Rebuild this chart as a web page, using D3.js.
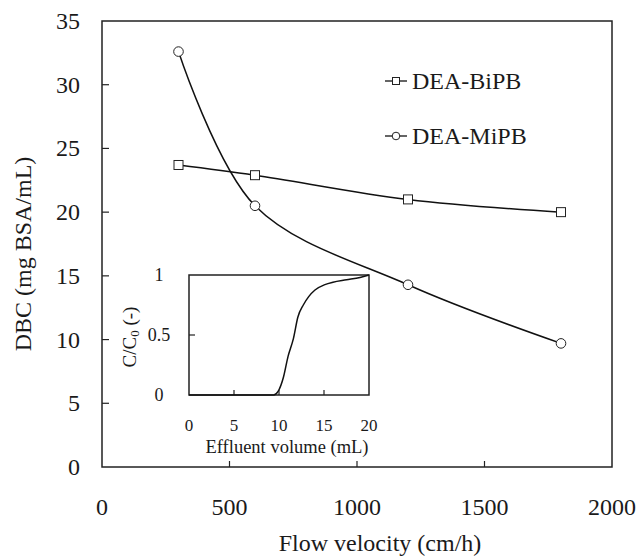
<!DOCTYPE html>
<html>
<head>
<meta charset="utf-8">
<script src="https://cdn.jsdelivr.net/npm/d3@7"></script>
<style>
  body { margin: 0; background: #fff; }
  text { font-family: "Liberation Serif", "Times New Roman", serif; fill: #1a1a1a; }
</style>
</head>
<body>
<div id="chart"></div>
<script>
// main chart data
var velocity = [300, 600, 1200, 1800];
var dbcBiPB = [23.7, 22.9, 21.0, 20.0];
var dbcMiPB = [32.6, 20.5, 14.3, 9.7];
var xTicks = [0, 500, 1000, 1500, 2000];
var yTicks = [0, 5, 10, 15, 20, 25, 30, 35];

// inset breakthrough curve
var effluentVol = [0, 9.0, 9.4, 9.9, 10.5, 11.0, 11.6, 12.1, 12.7, 13.3, 14.0, 15.1, 16.0, 17.5, 19.0, 20];
var cOverC0 = [0, 0, 0, 0.03, 0.15, 0.32, 0.47, 0.65, 0.75, 0.82, 0.875, 0.92, 0.94, 0.96, 0.98, 1.0];
var insetXTicks = [0, 5, 10, 15, 20];
var insetYTicks = [0, 0.5, 1];

var W = 640, H = 558;

var svg = d3.select("#chart")
  .append("svg")
    .attr("width", W)
    .attr("height", H);

// scales
var x = d3.scaleLinear().domain([0, 2000]).range([102, 612]);
var y = d3.scaleLinear().domain([0, 35]).range([467, 21]);

var xi = d3.scaleLinear().domain([0, 20]).range([189, 369]);
var yi = d3.scaleLinear().domain([0, 1]).range([395, 275]);

// frame
svg.append("rect")
  .attr("x", x(0)).attr("y", y(35))
  .attr("width", x(2000) - x(0)).attr("height", y(0) - y(35))
  .attr("fill", "none").attr("stroke", "#222").attr("stroke-width", 1.5);

// inward ticks (x)
svg.append("g")
  .selectAll("line")
  .data(xTicks.slice(1, -1))
  .enter()
  .append("line")
    .attr("x1", d => x(d)).attr("x2", d => x(d))
    .attr("y1", y(0)).attr("y2", y(0) - 6)
    .attr("stroke", "#222").attr("stroke-width", 1.2);

// inward ticks (y)
svg.append("g")
  .selectAll("line")
  .data(yTicks.slice(1, -1))
  .enter()
  .append("line")
    .attr("x1", x(0)).attr("x2", x(0) + 7)
    .attr("y1", d => y(d)).attr("y2", d => y(d))
    .attr("stroke", "#222").attr("stroke-width", 1.2);

// tick labels
svg.append("g")
  .selectAll("text")
  .data(xTicks)
  .enter()
  .append("text")
    .attr("x", d => x(d))
    .attr("y", 515)
    .attr("text-anchor", "middle")
    .attr("font-size", 24)
    .text(d => d);

svg.append("g")
  .selectAll("text")
  .data(yTicks)
  .enter()
  .append("text")
    .attr("x", 80)
    .attr("y", d => y(d) + 8)
    .attr("text-anchor", "end")
    .attr("font-size", 24)
    .text(d => d);

// axis titles
svg.append("text")
  .attr("x", 380)
  .attr("y", 551)
  .attr("text-anchor", "middle")
  .attr("font-size", 24)
  .text("Flow velocity (cm/h)");

svg.append("text")
  .attr("transform", "translate(31,254) rotate(-90)")
  .attr("text-anchor", "middle")
  .attr("font-size", 24)
  .text("DBC (mg BSA/mL)");

// inset box
svg.append("rect")
  .attr("x", xi(0)).attr("y", yi(1))
  .attr("width", xi(20) - xi(0)).attr("height", yi(0) - yi(1))
  .attr("fill", "#fff").attr("stroke", "#222").attr("stroke-width", 1.5);

svg.append("g")
  .selectAll("line")
  .data(insetXTicks.slice(1, -1))
  .enter()
  .append("line")
    .attr("x1", d => xi(d)).attr("x2", d => xi(d))
    .attr("y1", yi(0)).attr("y2", yi(0) - 5)
    .attr("stroke", "#222").attr("stroke-width", 1.2);

svg.append("g")
  .selectAll("line")
  .data(insetYTicks.slice(1, -1))
  .enter()
  .append("line")
    .attr("x1", xi(0)).attr("x2", xi(0) + 6)
    .attr("y1", d => yi(d)).attr("y2", d => yi(d))
    .attr("stroke", "#222").attr("stroke-width", 1.2);

svg.append("g")
  .selectAll("text")
  .data(insetXTicks)
  .enter()
  .append("text")
    .attr("x", d => xi(d))
    .attr("y", 431)
    .attr("text-anchor", "middle")
    .attr("font-size", 17)
    .text(d => d);

svg.append("g")
  .selectAll("text")
  .data(insetYTicks)
  .enter()
  .append("text")
    .attr("x", 159)
    .attr("y", d => yi(d) + 6)
    .attr("text-anchor", "middle")
    .attr("font-size", 18)
    .text(d => d);

svg.append("text")
  .attr("x", 287)
  .attr("y", 453)
  .attr("text-anchor", "middle")
  .attr("font-size", 18.5)
  .text("Effluent volume (mL)");

var yiTitle = svg.append("text")
  .attr("transform", "translate(136,337) rotate(-90)")
  .attr("text-anchor", "middle")
  .attr("font-size", 19);
yiTitle.append("tspan").text("C/C");
yiTitle.append("tspan").attr("font-size", 13).attr("dy", 3).text("0");
yiTitle.append("tspan").attr("dy", -3).text(" (-)");

// inset curve
var insetLine = d3.line()
  .x((d, i) => xi(effluentVol[i]))
  .y(d => yi(d))
  .curve(d3.curveMonotoneX);

svg.append("path")
  .datum(cOverC0)
  .attr("d", insetLine)
  .attr("fill", "none")
  .attr("stroke", "#111")
  .attr("stroke-width", 1.5);

// main smoothed lines
var line = d3.line()
  .x((d, i) => x(velocity[i]))
  .y(d => y(d))
  .curve(d3.curveCatmullRom.alpha(0.5));

[dbcBiPB, dbcMiPB].forEach(function(series) {
  svg.append("path")
    .datum(series)
    .attr("d", line)
    .attr("fill", "none")
    .attr("stroke", "#111")
    .attr("stroke-width", 1.5);
});

// markers
svg.append("g")
  .selectAll("rect")
  .data(dbcBiPB)
  .enter()
  .append("rect")
    .attr("x", (d, i) => x(velocity[i]) - 4.5)
    .attr("y", d => y(d) - 4.5)
    .attr("width", 9).attr("height", 9)
    .attr("fill", "#fff").attr("stroke", "#222").attr("stroke-width", 1);

svg.append("g")
  .selectAll("circle")
  .data(dbcMiPB)
  .enter()
  .append("circle")
    .attr("cx", (d, i) => x(velocity[i]))
    .attr("cy", d => y(d))
    .attr("r", 4.8)
    .attr("fill", "#fff").attr("stroke", "#222").attr("stroke-width", 1);

// legend
var legendNames = ["DEA-BiPB", "DEA-MiPB"];
var legendY = [81, 136];

var lg = svg.append("g")
  .selectAll("g")
  .data(legendNames)
  .enter()
  .append("g")
    .attr("transform", (d, i) => "translate(0," + legendY[i] + ")");

lg.append("line")
  .attr("x1", 385).attr("x2", 407)
  .attr("y1", 0).attr("y2", 0)
  .attr("stroke", "#111").attr("stroke-width", 1.3);

lg.filter((d, i) => i == 0)
  .append("rect")
    .attr("x", 392.5).attr("y", -3.5)
    .attr("width", 7).attr("height", 7)
    .attr("fill", "#fff").attr("stroke", "#222").attr("stroke-width", 1);

lg.filter((d, i) => i == 1)
  .append("circle")
    .attr("cx", 396).attr("cy", 0)
    .attr("r", 3.8)
    .attr("fill", "#fff").attr("stroke", "#222").attr("stroke-width", 1);

lg.append("text")
  .attr("x", 412)
  .attr("y", 8)
  .attr("font-size", 24)
  .text(d => d);
</script>
</body>
</html>
